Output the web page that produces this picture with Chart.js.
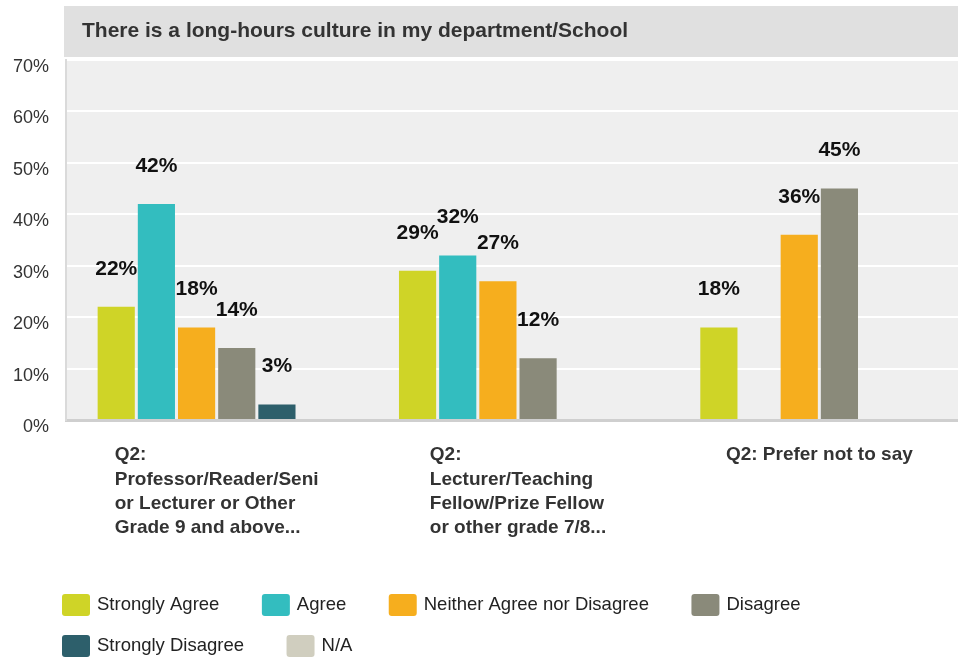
<!DOCTYPE html>
<html>
<head>
<meta charset="utf-8">
<script src="https://cdn.jsdelivr.net/npm/chart.js@4/dist/chart.umd.min.js"></script>
<style>
  html, body { margin: 0; padding: 0; background: #fff; }
  #wrap { width: 958px; height: 662px; }
</style>
</head>
<body>
<div id="wrap"><canvas id="myChart" width="958" height="662"></canvas></div>
<script>
const chartTitle = "There is a long-hours culture in my department/School";
const categories = [
  ["Q2:", "Professor/Reader/Seni", "or Lecturer or Other", "Grade 9 and above..."],
  ["Q2:", "Lecturer/Teaching", "Fellow/Prize Fellow", "or other grade 7/8..."],
  ["Q2: Prefer not to say"],
];
const seriesNames = ["Strongly Agree", "Agree", "Neither Agree nor Disagree", "Disagree", "Strongly Disagree", "N/A"];
const seriesColors = ["#cfd427", "#33bdbf", "#f6ae1e", "#8a8a7a", "#2d5f6b", "#d0cebf"];
const stronglyAgree = [22, 29, 18];
const agree = [42, 32, 0];
const neither = [18, 27, 36];
const disagree = [14, 12, 45];
const stronglyDisagree = [3, 0, 0];
const notApplicable = [0, 0, 0];
const yTicks = [0, 10, 20, 30, 40, 50, 60, 70];

const FONT = '"Liberation Sans", Arial, sans-serif';
const allSeries = [stronglyAgree, agree, neither, disagree, stronglyDisagree, notApplicable];

// the category band runs a little past the right edge in the original
const stretchX = {
  id: "stretchX",
  afterLayout(chart) {
    const s = chart.scales.x;
    s.right += 12;
    s.width += 12;
    s.configure();
  },
};

// gray band with the title + plot background
const backdrop = {
  id: "backdrop",
  beforeDraw(chart) {
    const { ctx, chartArea } = chart;
    ctx.save();
    ctx.fillStyle = "#e0e0e0";
    ctx.fillRect(chartArea.left - 2, 6, chart.width - chartArea.left + 2, 51);
    ctx.fillStyle = "#333";
    ctx.font = "bold 21px " + FONT;
    ctx.textBaseline = "middle";
    ctx.fillText(chartTitle, 82, 31);
    ctx.fillStyle = "#efefef";
    ctx.fillRect(chartArea.left, chartArea.top, chart.width - chartArea.left, chartArea.bottom - chartArea.top);
    ctx.restore();
  },
};

// value labels above bars
const valueLabels = {
  id: "valueLabels",
  afterDatasetsDraw(chart) {
    const ctx = chart.ctx;
    ctx.save();
    ctx.font = "bold 21px " + FONT;
    ctx.fillStyle = "#111";
    ctx.textAlign = "center";
    ctx.textBaseline = "middle";
    chart.data.datasets.forEach((ds, i) => {
      chart.getDatasetMeta(i).data.forEach((bar, j) => {
        if (ds.data[j] > 0) ctx.fillText(ds.data[j] + "%", bar.x, bar.y - 38);
      });
    });
    ctx.restore();
  },
};

// category labels: centred block, lines left aligned
const categoryLabels = {
  id: "categoryLabels",
  afterDraw(chart) {
    const ctx = chart.ctx;
    const xScale = chart.scales.x;
    ctx.save();
    ctx.font = "bold 19px " + FONT;
    ctx.fillStyle = "#333";
    ctx.textBaseline = "middle";
    categories.forEach((lines, i) => {
      const cx = xScale.getPixelForValue(i);
      const w = Math.max(...lines.map((l) => ctx.measureText(l).width));
      lines.forEach((l, k) => ctx.fillText(l, cx - w / 2, 455 + k * 24.3));
    });
    ctx.restore();
  },
};

// legend, left aligned rows
const customLegend = {
  id: "customLegend",
  afterDraw(chart) {
    const ctx = chart.ctx;
    ctx.save();
    ctx.font = "18.5px " + FONT;
    ctx.textBaseline = "middle";
    let x = 62;
    let y = 605;
    chart.data.datasets.forEach((ds) => {
      const itemW = 28 + 7 + ctx.measureText(ds.label).width;
      if (x + itemW > chart.width - 10) {
        x = 62;
        y += 41;
      }
      ctx.fillStyle = ds.backgroundColor;
      ctx.beginPath();
      ctx.roundRect(x, y - 11, 28, 22, 3);
      ctx.fill();
      ctx.fillStyle = "#222";
      ctx.fillText(ds.label, x + 35, y);
      x += itemW + 42.5;
    });
    ctx.restore();
  },
};

new Chart(document.getElementById("myChart"), {
  type: "bar",
  data: {
    labels: categories,
    datasets: seriesNames.map((name, i) => ({
      label: name,
      data: allSeries[i],
      backgroundColor: seriesColors[i],
      borderWidth: 0,
      barPercentage: 0.925,
      categoryPercentage: 0.8,
    })),
  },
  options: {
    responsive: false,
    animation: false,
    events: [],
    layout: { padding: { top: 60, bottom: 242, left: 0, right: 0 } },
    plugins: { legend: { display: false }, title: { display: false }, tooltip: { enabled: false } },
    scales: {
      x: {
        grid: { display: false },
        border: { display: true, color: "#cfcfcf", width: 3 },
        ticks: { display: false },
        afterFit: (s) => { s.height = 0; },
      },
      y: {
        min: 0,
        max: 70,
        afterBuildTicks: (s) => { s.ticks = yTicks.map((v) => ({ value: v })); },
        grid: { color: "#ffffff", lineWidth: 2, drawTicks: false },
        border: { display: true, color: "#dadada", width: 2 },
        ticks: {
          callback: (v) => v + "%",
          font: { family: FONT, size: 18 },
          color: "#333",
          padding: 17,
          labelOffset: 7,
        },
        afterFit: (s) => { s.width = 66; },
      },
    },
  },
  plugins: [stretchX, backdrop, valueLabels, categoryLabels, customLegend],
});
</script>
</body>
</html>
